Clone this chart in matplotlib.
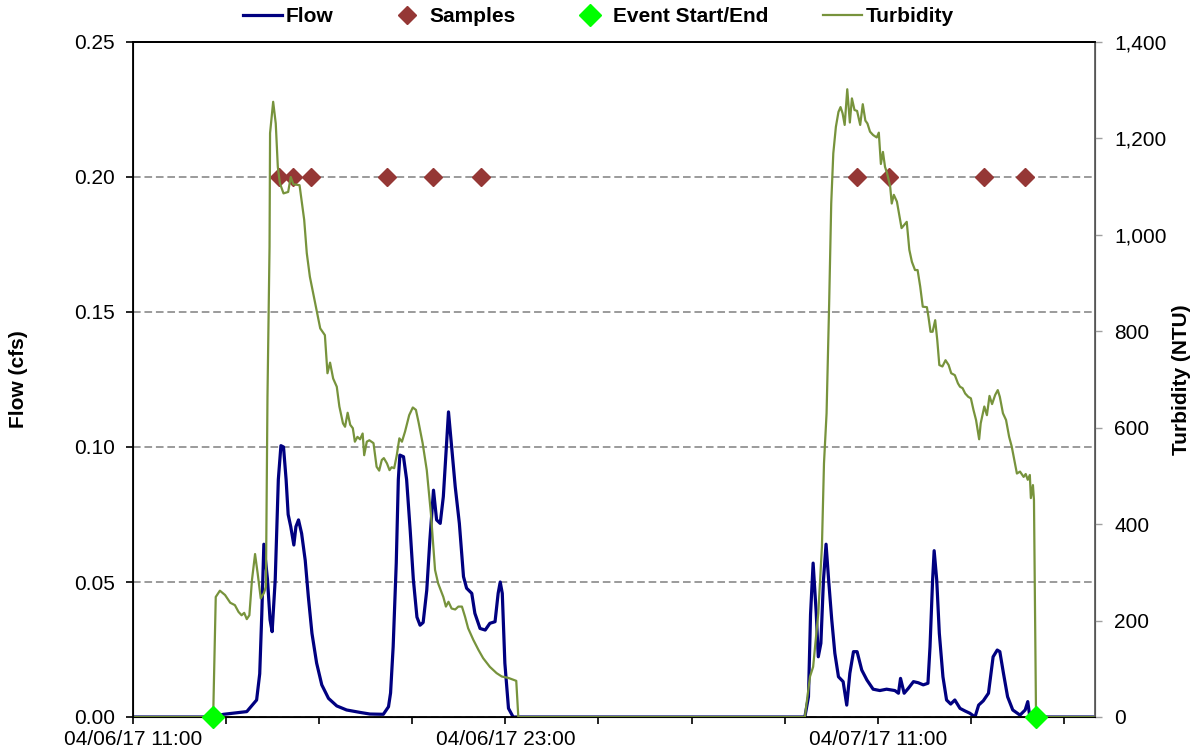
import matplotlib
matplotlib.use('Agg')
import matplotlib.pyplot as plt
from matplotlib.ticker import FuncFormatter
import pandas as pd

plt.rcParams['font.family'] = ['Liberation Sans', 'DejaVu Sans']

# flow record (cfs)
flow_time = ['04/06 11:00', '04/06 13:35', '04/06 13:55', '04/06 14:40', '04/06 14:59', '04/06 15:05',
             '04/06 15:09', '04/06 15:13', '04/06 15:20', '04/06 15:25', '04/06 15:29', '04/06 15:35',
             '04/06 15:41', '04/06 15:46', '04/06 15:51', '04/06 15:56', '04/06 16:00', '04/06 16:05',
             '04/06 16:11', '04/06 16:15', '04/06 16:20', '04/06 16:26', '04/06 16:33', '04/06 16:39',
             '04/06 16:46', '04/06 16:55', '04/06 17:05', '04/06 17:18', '04/06 17:34', '04/06 17:53',
             '04/06 18:19', '04/06 18:38', '04/06 19:04', '04/06 19:14', '04/06 19:18', '04/06 19:23',
             '04/06 19:29', '04/06 19:33', '04/06 19:36', '04/06 19:43', '04/06 19:49', '04/06 19:56',
             '04/06 20:02', '04/06 20:09', '04/06 20:15', '04/06 20:21', '04/06 20:28', '04/06 20:34',
             '04/06 20:41', '04/06 20:47', '04/06 20:54', '04/06 21:00', '04/06 21:10', '04/06 21:16',
             '04/06 21:23', '04/06 21:31', '04/06 21:39', '04/06 21:45', '04/06 21:55', '04/06 22:01',
             '04/06 22:11', '04/06 22:21', '04/06 22:30', '04/06 22:40', '04/06 22:46', '04/06 22:50',
             '04/06 22:54', '04/06 22:59', '04/06 23:06', '04/06 23:15',
             '04/07 08:39', '04/07 08:46', '04/07 08:50', '04/07 08:55', '04/07 09:01', '04/07 09:05',
             '04/07 09:10', '04/07 09:15', '04/07 09:20', '04/07 09:25', '04/07 09:31', '04/07 09:37',
             '04/07 09:44', '04/07 09:53', '04/07 10:00', '04/07 10:06', '04/07 10:13', '04/07 10:20',
             '04/07 10:29', '04/07 10:39', '04/07 10:51', '04/07 11:04', '04/07 11:17', '04/07 11:33',
             '04/07 11:40', '04/07 11:44', '04/07 11:51', '04/07 11:59', '04/07 12:09', '04/07 12:18',
             '04/07 12:28', '04/07 12:37', '04/07 12:41', '04/07 12:46', '04/07 12:49', '04/07 12:54',
             '04/07 12:59', '04/07 13:06', '04/07 13:13', '04/07 13:21', '04/07 13:29', '04/07 13:39',
             '04/07 13:49', '04/07 13:58', '04/07 14:08', '04/07 14:15', '04/07 14:24', '04/07 14:34',
             '04/07 14:43', '04/07 14:51', '04/07 14:56', '04/07 15:03', '04/07 15:11', '04/07 15:21',
             '04/07 15:35', '04/07 15:45', '04/07 15:50', '04/07 15:54', '04/07 18:00']
flow = [0, 0, .001, .002, .0063, .016,
        .038, .064, .051, .036, .0316, .051,
        .088, .1005, .100, .088, .075, .0705,
        .0637, .0705, .073, .068, .058, .0446,
        .031, .020, .0119, .0069, .0041, .0026,
        .0017, .0011, .001, .0038, .0089, .026,
        .057, .088, .097, .0964, .088, .069,
        .051, .037, .034, .035, .047, .0656,
        .084, .073, .0717, .0816, .113, .100,
        .0853, .0717, .052, .0477, .0458, .0384,
        .0328, .0322, .0347, .0353, .0458, .050,
        .0458, .0199, .0032, 0,
        0, .0075, .038, .057, .0385, .0223,
        .0273, .0507, .064, .0507, .036, .0236,
        .0149, .0131, .0044, .0162, .0242, .0242,
        .0174, .0137, .0103, .0098, .0103, .0098,
        .0088, .0143, .0088, .0106, .0131, .0127,
        .0119, .0125, .026, .0507, .0616, .0507,
        .031, .0149, .0063, .0048, .0063, .0032,
        .0022, .0014, 0, .0044, .006, .0088,
        .0223, .0248, .0242, .0162, .0075, .0026,
        .0007, .0026, .0057, 0, 0]

# turbidity record (NTU)
turb_time = ['04/06 11:00', '04/06 13:35', '04/06 13:40', '04/06 13:48', '04/06 13:58', '04/06 14:08',
             '04/06 14:17', '04/06 14:24', '04/06 14:30', '04/06 14:35', '04/06 14:40', '04/06 14:45',
             '04/06 14:50', '04/06 14:56', '04/06 15:01', '04/06 15:07', '04/06 15:13', '04/06 15:17',
             '04/06 15:20', '04/06 15:24', '04/06 15:25', '04/06 15:31', '04/06 15:36', '04/06 15:40',
             '04/06 15:44', '04/06 15:51', '04/06 16:00', '04/06 16:05', '04/06 16:10', '04/06 16:22',
             '04/06 16:31', '04/06 16:36', '04/06 16:42', '04/06 16:55', '04/06 17:02', '04/06 17:11',
             '04/06 17:16', '04/06 17:21', '04/06 17:27', '04/06 17:34', '04/06 17:39', '04/06 17:46',
             '04/06 17:50', '04/06 17:55', '04/06 18:00', '04/06 18:05', '04/06 18:09', '04/06 18:14',
             '04/06 18:19', '04/06 18:24', '04/06 18:27', '04/06 18:32', '04/06 18:37', '04/06 18:45',
             '04/06 18:51', '04/06 18:56', '04/06 19:01', '04/06 19:05', '04/06 19:11', '04/06 19:16',
             '04/06 19:20', '04/06 19:25', '04/06 19:30', '04/06 19:35', '04/06 19:40', '04/06 19:46',
             '04/06 19:54', '04/06 20:01', '04/06 20:07', '04/06 20:12', '04/06 20:20', '04/06 20:28',
             '04/06 20:36', '04/06 20:44', '04/06 20:50', '04/06 21:00', '04/06 21:05', '04/06 21:10',
             '04/06 21:16', '04/06 21:23', '04/06 21:29', '04/06 21:36', '04/06 21:42', '04/06 21:48',
             '04/06 21:58', '04/06 22:08', '04/06 22:17', '04/06 22:30', '04/06 22:43', '04/06 22:53',
             '04/06 23:06', '04/06 23:21', '04/06 23:25',
             '04/07 08:39', '04/07 08:49', '04/07 08:55', '04/07 09:05', '04/07 09:12', '04/07 09:16',
             '04/07 09:21', '04/07 09:26', '04/07 09:30', '04/07 09:34', '04/07 09:39', '04/07 09:44',
             '04/07 09:48', '04/07 09:52', '04/07 09:56', '04/07 10:01', '04/07 10:06', '04/07 10:10',
             '04/07 10:15', '04/07 10:20', '04/07 10:26', '04/07 10:31', '04/07 10:36', '04/07 10:40',
             '04/07 10:45', '04/07 10:51', '04/07 10:58', '04/07 11:02', '04/07 11:06', '04/07 11:10',
             '04/07 11:14', '04/07 11:18', '04/07 11:24', '04/07 11:27', '04/07 11:31', '04/07 11:37',
             '04/07 11:42', '04/07 11:46', '04/07 11:56', '04/07 12:01', '04/07 12:06', '04/07 12:12',
             '04/07 12:17', '04/07 12:22', '04/07 12:27', '04/07 12:35', '04/07 12:38', '04/07 12:42',
             '04/07 12:46', '04/07 12:51', '04/07 12:55', '04/07 12:59', '04/07 13:05', '04/07 13:11',
             '04/07 13:17', '04/07 13:22', '04/07 13:29', '04/07 13:35', '04/07 13:39', '04/07 13:44',
             '04/07 13:49', '04/07 13:55', '04/07 14:00', '04/07 14:05', '04/07 14:10', '04/07 14:16',
             '04/07 14:19', '04/07 14:26', '04/07 14:31', '04/07 14:36', '04/07 14:41', '04/07 14:47',
             '04/07 14:52', '04/07 14:56', '04/07 15:02', '04/07 15:08', '04/07 15:14', '04/07 15:19',
             '04/07 15:24', '04/07 15:29', '04/07 15:35', '04/07 15:42', '04/07 15:46', '04/07 15:50',
             '04/07 15:54', '04/07 15:56', '04/07 16:00', '04/07 16:02', '04/07 16:06', '04/07 18:00']
turbidity = [0, 0, 249, 262, 253, 237,
             232, 218, 211, 216, 203, 211,
             284, 338, 298, 246, 257, 270,
             664, 975, 1211, 1276, 1231, 1141,
             1107, 1086, 1089, 1120, 1105, 1103,
             1031, 962, 913, 844, 806, 792,
             713, 735, 702, 685, 644, 609,
             602, 631, 606, 599, 571, 581,
             576, 588, 543, 571, 574, 568,
             519, 511, 533, 537, 526, 512,
             518, 516, 543, 578, 571, 592,
             626, 642, 637, 612, 568, 512,
             422, 305, 277, 249, 229, 239,
             225, 223, 229, 229, 208, 184,
             160, 139, 122, 104, 91, 84,
             81, 75, 0,
             0, 84, 104, 215, 353, 526,
             630, 858, 1065, 1169, 1224, 1255,
             1265, 1252, 1228, 1302, 1233, 1283,
             1259, 1257, 1228, 1271, 1237, 1231,
             1214, 1207, 1202, 1212, 1147, 1172,
             1141, 1128, 1100, 1065, 1083, 1069,
             1038, 1014, 1027, 969, 944, 927,
             927, 893, 851, 850, 830, 799,
             799, 823, 782, 730, 727, 740,
             730, 713, 709, 692, 685, 682,
             671, 664, 661, 637, 616, 576,
             609, 644, 626, 666, 649, 668,
             678, 664, 630, 616, 581, 561,
             533, 505, 509, 498, 504, 492,
             502, 454, 481, 450, 0, 0]

sample_time = ['04/06 15:42', '04/06 16:09', '04/06 16:45', '04/06 19:11', '04/06 20:40', '04/06 22:12',
               '04/07 10:20', '04/07 11:21', '04/07 14:26', '04/07 15:45']
sample_flow = [0.20] * 10

event_time = ['04/06 13:35', '04/07 16:06']
event_flow = [0, 0]

tick_labels = ['04/06/17 11:00', '', '', '', '04/06/17 23:00', '', '', '', '04/07/17 11:00', '', '']


def to_dt(times):
    return pd.to_datetime(['2017/' + t for t in times], format='%Y/%m/%d %H:%M')


fig = plt.figure(figsize=(11.96, 7.56), dpi=100)
ax = fig.add_axes([133 / 1196, 1 - 717 / 756, (1095 - 133) / 1196, (717 - 42) / 756])
ax2 = ax.twinx()

ax.plot(to_dt(flow_time), flow, color='#000080', lw=2.3, label='Flow', solid_joinstyle='round')
ax.plot(to_dt(sample_time), sample_flow, 'D', color='#953735', ms=9, label='Samples', zorder=5)
ax2.plot(to_dt(turb_time), turbidity, color='#77933C', lw=1.6, label='Turbidity')
ev, = ax2.plot(to_dt(event_time), event_flow, 'D', color='#00FF00', ms=11, label='Event Start/End',
               clip_on=False, zorder=6)

ax.set_xlim(pd.Timestamp('2017-04-06 11:00'), pd.Timestamp('2017-04-07 18:00'))
ax.set_ylim(0, 0.25)
ax2.set_ylim(0, 1400)

ticks = pd.date_range('2017-04-06 11:00', '2017-04-07 17:00', freq='3h')
ax.set_xticks(ticks)
ax.set_xticklabels(tick_labels)
ax.set_yticks([0, 0.05, 0.10, 0.15, 0.20, 0.25])
ax.yaxis.set_major_formatter(FuncFormatter(lambda v, p: f'{v:.2f}'))
ax2.set_yticks(range(0, 1401, 200))
ax2.yaxis.set_major_formatter(FuncFormatter(lambda v, p: f'{int(v):,}'))

ax.tick_params(axis='both', labelsize=15, direction='out', length=4.7, width=1.2, color='black')
ax.tick_params(axis='x', pad=5)
ax.tick_params(axis='y', pad=8.5)
ax2.tick_params(axis='y', labelsize=15, direction='out', length=4.7, width=1, color='#A0A0A0', pad=9)

ax.yaxis.grid(True, color='#808080', lw=1.1, ls=(0, (5, 2.5)))
ax.set_axisbelow(True)

for s in ['left', 'bottom', 'top']:
    ax.spines[s].set_linewidth(1.3)
ax2.spines['right'].set_color('#606060')
ax2.spines['right'].set_linewidth(1.3)
ax2.spines['top'].set_linewidth(1.3)

ax.set_ylabel('Flow (cfs)', fontsize=15, fontweight='bold')
ax.yaxis.set_label_coords((28 - 133) / 962, 0.5)
ax2.set_ylabel('Turbidity (NTU)', fontsize=15, fontweight='bold')
ax2.yaxis.set_label_coords((1172 - 133) / 962, 0.5)

handles = [ax.lines[0], ax.lines[1], ev, ax2.lines[0]]
fig.legend(handles, [h.get_label() for h in handles], loc='center', bbox_to_anchor=(0.5, 1 - 17 / 756),
           ncol=4, frameon=False, prop={'size': 15, 'weight': 'bold'}, handlelength=1.9,
           handletextpad=0.15, columnspacing=2.6, borderaxespad=0)

fig.savefig('out.png', dpi=100)
